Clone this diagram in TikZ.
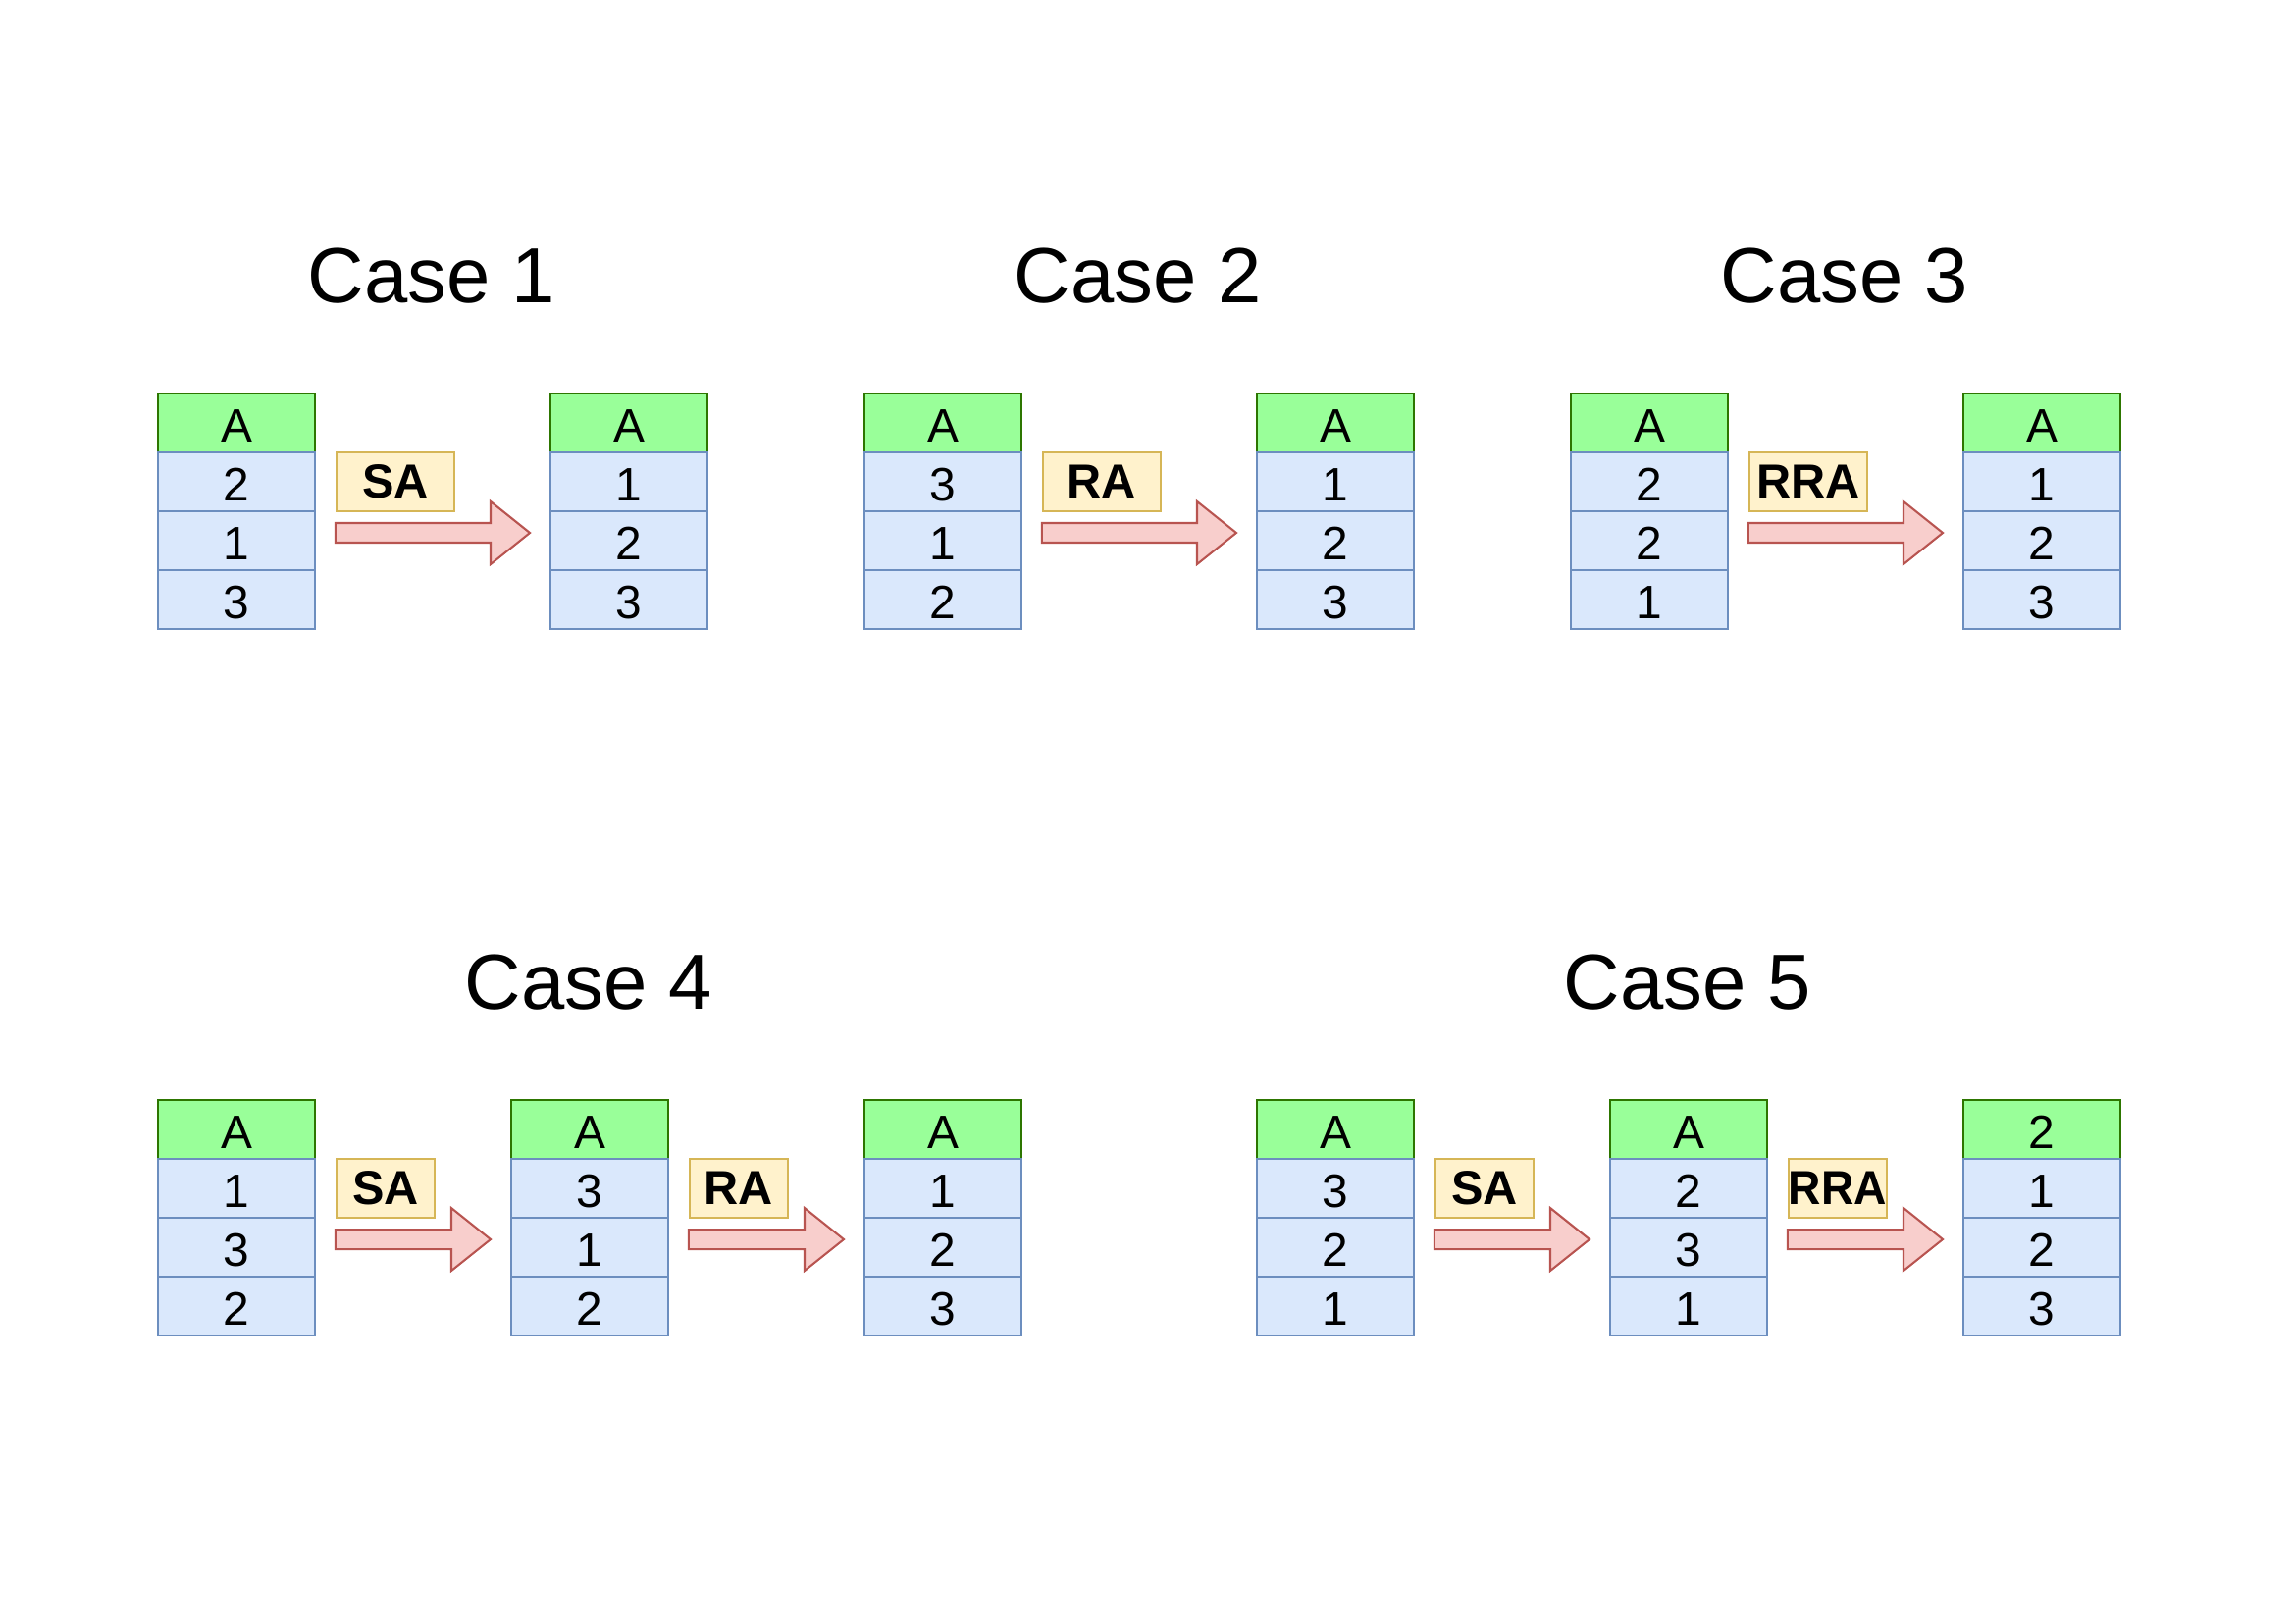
\documentclass[tikz,border=0pt]{standalone}
\usepackage{fontspec}
\setmainfont{Liberation Sans}
\usetikzlibrary{calc}
\definecolor{hdrfill}{HTML}{99FF99}
\definecolor{hdrline}{HTML}{2D7600}
\definecolor{rowfill}{HTML}{DAE8FC}
\definecolor{rowline}{HTML}{6C8EBF}
\definecolor{boxfill}{HTML}{FFF2CC}
\definecolor{boxline}{HTML}{D6B656}
\definecolor{arrfill}{HTML}{F8CECC}
\definecolor{arrline}{HTML}{B85450}
\tikzset{
 cellbase/.style={rectangle, minimum width=0.8in, minimum height=0.3in, inner sep=0pt, anchor=north west, line width=0.75pt, font=\fontsize{17.3}{20}\selectfont, text height=14pt, text depth=0pt},
 hdrcell/.style={cellbase, draw=hdrline, fill=hdrfill},
 rowcell/.style={cellbase, draw=rowline, fill=rowfill},
 opbox/.style={rectangle, draw=boxline, fill=boxfill, line width=0.75pt, minimum height=0.3in, inner sep=0pt, anchor=north west, font=\bfseries\fontsize{17.6}{20}\selectfont},
 blockarrow/.style={draw=arrline, fill=arrfill, line width=0.75pt, line join=miter},
 casetitle/.style={font=\fontsize{28.8}{32}\selectfont, inner sep=0pt},
}
% table: name, x, y, header, r1, r2, r3
\newcommand\Tbl[7]{%
 \node[hdrcell] (#1-h) at (#2,#3) {#4};
 \node[rowcell] (#1-1) at (#2,#3+60) {#5};
 \node[rowcell] (#1-2) at (#2,#3+120) {#6};
 \node[rowcell] (#1-3) at (#2,#3+180) {#7};
}
% operation box: name, width, left table, label
\newcommand\Op[4]{%
 \node[opbox, minimum width=#2] (#1) at ($(#3-1.north east)+(20,0)$) {#4};
}
% block arrow from left table to right table
\newcommand\Arr[3]{%
 \coordinate (#1-s) at ($(#2-1.south east)+(20,21)$);
 \coordinate (#1-t) at ($(#3-1.south west)+(-20,21)$);
 \draw[blockarrow] ($(#1-s)+(0,-10)$) -- ($(#1-t)+(-40,-10)$) -- ($(#1-t)+(-40,-32)$) -- (#1-t)
   -- ($(#1-t)+(-40,32)$) -- ($(#1-t)+(-40,10)$) -- ($(#1-s)+(0,10)$) -- cycle;
}
\begin{document}
\begin{tikzpicture}[x=0.005in, y=-0.005in]
\useasboundingbox (0,0) rectangle (2338,1654);
% Case 1
\node[casetitle] (t1) at (440,281) {Case 1};
\Tbl{c1a}{160}{400}{A}{2}{1}{3}
\Tbl{c1b}{560}{400}{A}{1}{2}{3}
\Op{c1op}{0.6in}{c1a}{SA}
\Arr{c1ar}{c1a}{c1b}
% Case 2
\node[casetitle] (t2) at (1160,281) {Case 2};
\Tbl{c2a}{880}{400}{A}{3}{1}{2}
\Tbl{c2b}{1280}{400}{A}{1}{2}{3}
\Op{c2op}{0.6in}{c2a}{RA}
\Arr{c2ar}{c2a}{c2b}
% Case 3
\node[casetitle] (t3) at (1880,281) {Case 3};
\Tbl{c3a}{1600}{400}{A}{2}{2}{1}
\Tbl{c3b}{2000}{400}{A}{1}{2}{3}
\Op{c3op}{0.6in}{c3a}{RRA}
\Arr{c3ar}{c3a}{c3b}
% Case 4
\node[casetitle] (t4) at (600,1001) {Case 4};
\Tbl{c4a}{160}{1120}{A}{1}{3}{2}
\Tbl{c4b}{520}{1120}{A}{3}{1}{2}
\Tbl{c4c}{880}{1120}{A}{1}{2}{3}
\Op{c4op1}{0.5in}{c4a}{SA}
\Arr{c4ar1}{c4a}{c4b}
\Op{c4op2}{0.5in}{c4b}{RA}
\Arr{c4ar2}{c4b}{c4c}
% Case 5
\node[casetitle] (t5) at (1720,1001) {Case 5};
\Tbl{c5a}{1280}{1120}{A}{3}{2}{1}
\Tbl{c5b}{1640}{1120}{A}{2}{3}{1}
\Tbl{c5c}{2000}{1120}{2}{1}{2}{3}
\Op{c5op1}{0.5in}{c5a}{SA}
\Arr{c5ar1}{c5a}{c5b}
\Op{c5op2}{0.5in}{c5b}{\scalebox{0.95}[1]{RRA}}
\Arr{c5ar2}{c5b}{c5c}
\end{tikzpicture}
\end{document}
